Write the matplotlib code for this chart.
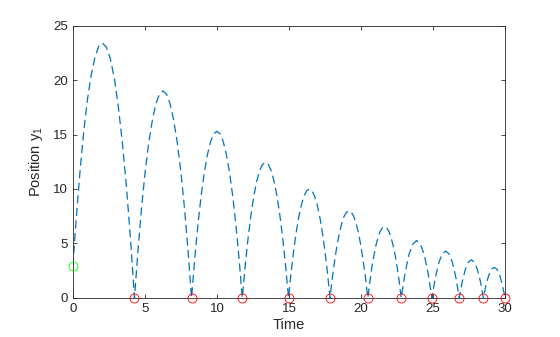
import numpy as np
import matplotlib
matplotlib.use("Agg")
import matplotlib.pyplot as plt

# trajectory of the ball (one list per bounce arc)
arc_t = [
    [0.0, 0.256, 0.513, 0.769, 1.025, 1.281, 1.538, 1.794, 2.05,
     2.33, 2.61, 2.89, 3.16, 3.44, 3.72, 4.00, 4.28],
    [4.28, 4.53, 4.775, 5.02, 5.27, 5.52, 5.765, 6.01, 6.26,
     6.51, 6.755, 7.0, 7.25, 7.50, 7.745, 7.99, 8.24],
    [8.24, 8.46, 8.68, 8.90, 9.12, 9.34, 9.56, 9.78, 10.0,
     10.22, 10.44, 10.66, 10.88, 11.10, 11.32, 11.54, 11.76],
    [11.76, 11.96, 12.16, 12.36, 12.56, 12.76, 12.96, 13.16, 13.37,
     13.57, 13.77, 13.97, 14.17, 14.37, 14.57, 14.77, 14.97],
    [14.97, 15.15, 15.33, 15.51, 15.69, 15.87, 16.05, 16.23, 16.41,
     16.59, 16.77, 16.95, 17.13, 17.31, 17.49, 17.67, 17.85],
    [17.85, 18.01, 18.18, 18.34, 18.51, 18.67, 18.83, 19.00, 19.16,
     19.32, 19.49, 19.65, 19.82, 19.98, 20.14, 20.31, 20.47],
    [20.47, 20.62, 20.76, 20.91, 21.05, 21.20, 21.34, 21.49, 21.63,
     21.78, 21.92, 22.07, 22.21, 22.36, 22.50, 22.65, 22.79],
    [22.79, 23.06, 23.32, 23.59, 23.86, 24.12, 24.39, 24.65, 24.92],
    [24.92, 25.16, 25.40, 25.63, 25.87, 26.11, 26.35, 26.58, 26.82],
    [26.82, 27.03, 27.24, 27.45, 27.66, 27.86, 28.07, 28.28, 28.49],
    [28.49, 28.68, 28.87, 29.05, 29.24, 29.43, 29.62, 29.80, 30.0],
]
arc_y = [
    [2.9, 7.6, 11.8, 15.4, 18.3, 20.5, 22.1, 23.1, 23.4,
     23.03, 21.94, 20.11, 17.55, 14.26, 10.24, 5.48, 0.0],
    [0.0, 4.45, 8.31, 11.57, 14.25, 16.32, 17.81, 18.70, 19.0,
     18.70, 17.81, 16.32, 14.25, 11.57, 8.31, 4.45, 0.0],
    [0.0, 3.58, 6.69, 9.32, 11.48, 13.14, 14.34, 15.06, 15.3,
     15.06, 14.34, 13.14, 11.48, 9.32, 6.69, 3.58, 0.0],
    [0.0, 2.91, 5.45, 7.58, 9.34, 10.69, 11.67, 12.25, 12.45,
     12.25, 11.67, 10.69, 9.34, 7.58, 5.45, 2.91, 0.0],
    [0.0, 2.34, 4.38, 6.09, 7.5, 8.59, 9.38, 9.84, 10.0,
     9.84, 9.38, 8.59, 7.5, 6.09, 4.38, 2.34, 0.0],
    [0.0, 1.87, 3.5, 4.87, 6.0, 6.87, 7.5, 7.87, 8.0,
     7.87, 7.5, 6.87, 6.0, 4.87, 3.5, 1.87, 0.0],
    [0.0, 1.53, 2.87, 3.99, 4.91, 5.63, 6.14, 6.45, 6.55,
     6.45, 6.14, 5.63, 4.91, 3.99, 2.87, 1.53, 0.0],
    [0.0, 2.31, 3.95, 4.94, 5.27, 4.94, 3.95, 2.31, 0.0],
    [0.0, 1.88, 3.23, 4.03, 4.3, 4.03, 3.23, 1.88, 0.0],
    [0.0, 1.53, 2.63, 3.28, 3.5, 3.28, 2.63, 1.53, 0.0],
    [0.0, 1.23, 2.1, 2.63, 2.8, 2.63, 2.1, 1.23, 0.0],
]

# bounce events (red) and start point (green)
event_t = [4.28, 8.24, 11.76, 14.97, 17.85, 20.47, 22.79, 24.92, 26.82, 28.49, 30.0]
event_y = [0, 0, 0, 0, 0, 0, 0, 0, 0, 0, 0]
start_t = [0.0]
start_y = [2.9]

xticks = [0, 5, 10, 15, 20, 25, 30]
yticks = [0, 5, 10, 15, 20, 25]

dark = '#262626'
plt.rcParams['font.family'] = ['Liberation Sans', 'DejaVu Sans']

fig = plt.figure(figsize=(5.6, 3.37), dpi=100)
ax = fig.add_axes([0.130, 0.116, 0.772, 0.808])

# join the arcs into one line (drop the shared bounce point)
t_all = np.concatenate([np.array(t) if i == 0 else np.array(t[1:]) for i, t in enumerate(arc_t)])
y_all = np.concatenate([np.array(y) if i == 0 else np.array(y[1:]) for i, y in enumerate(arc_y)])

line, = ax.plot(t_all, y_all, color='#0072BD', lw=0.9)
line.set_dashes((6.5, 3.6))
ax.plot(event_t, event_y, 'o', ms=6.5, mfc='none', mec='#FF0000', mew=0.6, clip_on=False, zorder=3)
ax.plot(start_t, start_y, 'o', ms=6.5, mfc='none', mec='#00FF00', mew=0.6, clip_on=False, zorder=3)

ax.set_xlim(0, 30)
ax.set_ylim(0, 25)
ax.set_xticks(xticks)
ax.set_yticks(yticks)
ax.tick_params(direction='in', length=3, width=0.6, colors=dark, labelsize=9.5,
               top=True, right=True)
for s in ax.spines.values():
    s.set_color(dark)
    s.set_linewidth(0.6)

ax.set_xlabel('Time', fontsize=10.5, color=dark, labelpad=2)
ax.set_ylabel('Position $\\mathregular{y_1}$', fontsize=10.5, color=dark, labelpad=6)

fig.savefig('out.png', dpi=100)
